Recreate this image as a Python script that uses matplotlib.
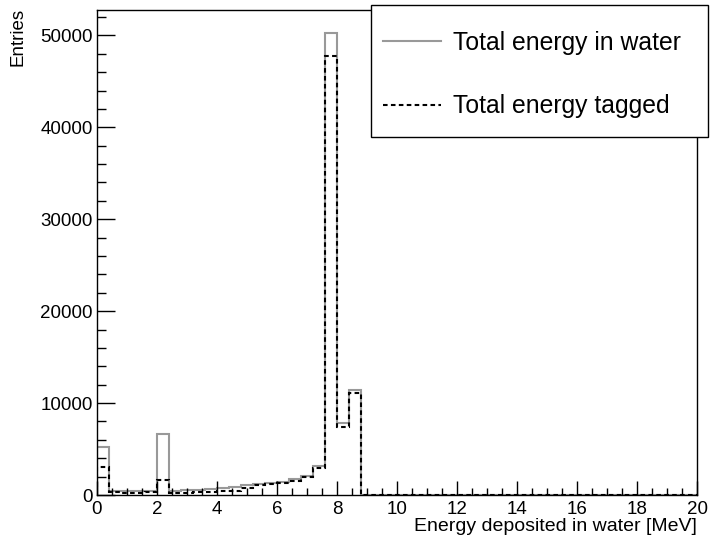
import matplotlib
matplotlib.use("Agg")
import matplotlib.pyplot as plt
import numpy as np
from matplotlib.lines import Line2D
from matplotlib.patches import Rectangle
from matplotlib.ticker import MultipleLocator

plt.rcParams['font.family'] = ['Liberation Sans', 'DejaVu Sans']

# 50 bins of 0.4 MeV from 0 to 20 MeV
bin_edges = np.linspace(0, 20, 51)

water_first = [5200, 470, 470, 480, 480, 6650, 430, 500, 560, 620,
               720, 880, 1080, 1250, 1350, 1450, 1700, 2070, 3190, 50250,
               7860, 11410]
tagged_first = [3050, 280, 270, 270, 280, 1580, 220, 250, 280, 320,
                400, 470, 800, 1050, 1200, 1270, 1560, 1920, 2970, 47720,
                7430, 11120]
energy_water = np.array(water_first + [0] * (50 - len(water_first)), dtype=float)
energy_tagged = np.array(tagged_first + [0] * (50 - len(tagged_first)), dtype=float)

labels = ["Total energy in water", "Total energy tagged"]

fig = plt.figure(figsize=(7.11, 5.42), dpi=100)
ax = fig.add_axes([97/711, 47/542, 600/711, 485/542])

ax.stairs(energy_water, bin_edges, color='#999999', lw=1.5)
ax.stairs(energy_tagged, bin_edges, color='black', lw=1.5, linestyle=(0, (2.2, 1.6)))

ax.set_xlim(0, 20)
ax.set_ylim(0, 1.05 * energy_water.max())

ax.xaxis.set_major_locator(MultipleLocator(2))
ax.xaxis.set_minor_locator(MultipleLocator(0.5))
ax.yaxis.set_major_locator(MultipleLocator(10000))
ax.yaxis.set_minor_locator(MultipleLocator(2000))
ax.tick_params(axis='both', which='both', direction='in', labelsize=13.5, width=1)
ax.tick_params(axis='x', which='major', length=10.4, pad=4)
ax.tick_params(axis='x', which='minor', length=5.2)
ax.tick_params(axis='y', which='major', length=13, pad=3)
ax.tick_params(axis='y', which='minor', length=6.5)
for s in ax.spines.values():
    s.set_linewidth(1)

ax.set_xlabel("Energy deposited in water [MeV]", fontsize=14, loc='right')
ax.xaxis.set_label_coords(1.0, -0.048)
ax.xaxis.label.set_va('top')
ax.set_ylabel("Entries", fontsize=13.5, loc='top')
ax.yaxis.set_label_coords(-0.118, 1.004)

# legend box
fig.patches.append(Rectangle((371/711, 1 - 137/542), 337/711, 132/542,
                             transform=fig.transFigure, fill=True,
                             facecolor='white', edgecolor='black', lw=1, zorder=5))
handles = [Line2D([], [], color='#999999', lw=1.5),
           Line2D([], [], color='black', lw=1.5, linestyle=(0, (2.2, 1.6)))]
leg = fig.legend(handles, labels, loc='center left',
                 bbox_to_anchor=(383/711, 1 - 74.5/542), bbox_transform=fig.transFigure,
                 frameon=False, fontsize=17.8, borderpad=0, borderaxespad=0,
                 handlelength=2.34, handletextpad=0.5, labelspacing=1.6)
leg.set_zorder(6)

fig.savefig("out.png", dpi=100)
